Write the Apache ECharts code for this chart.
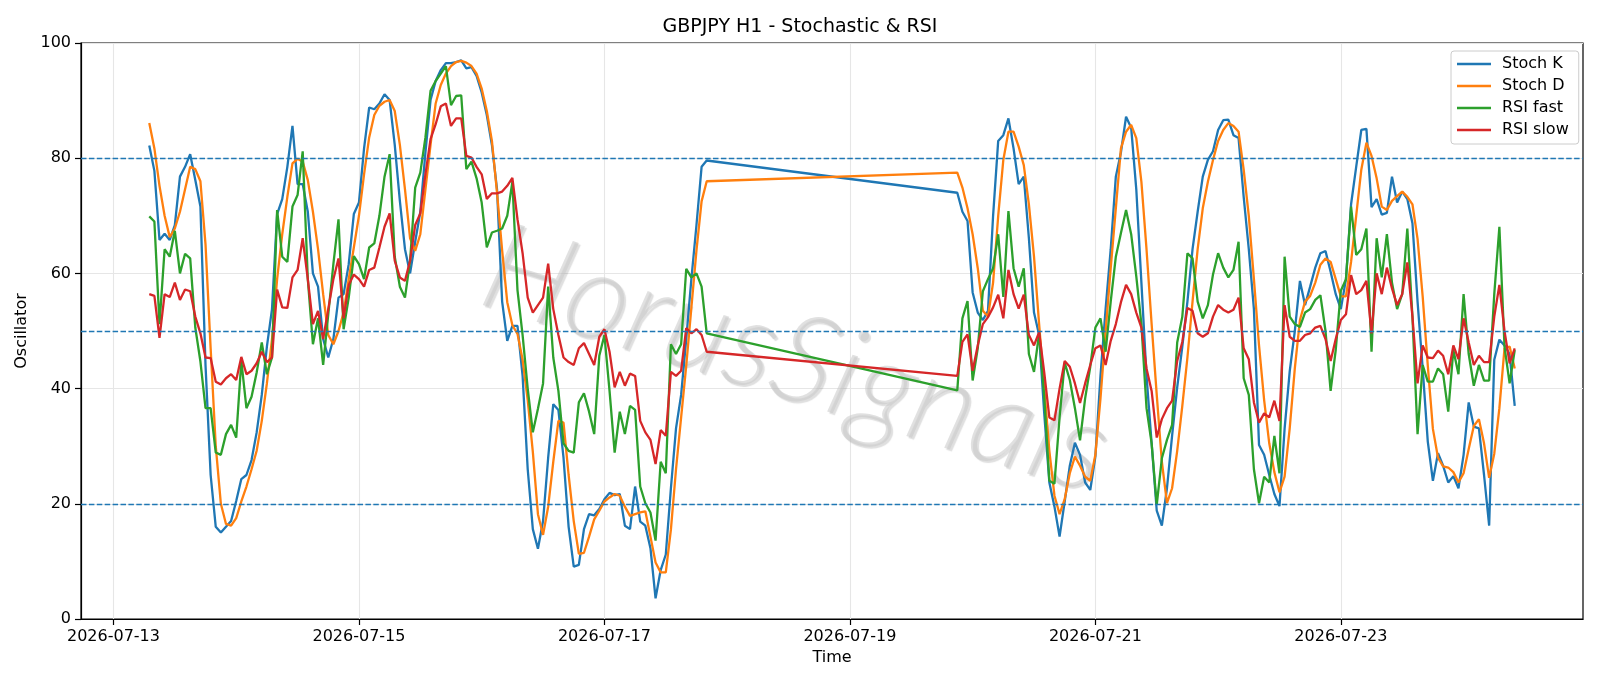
<!DOCTYPE html>
<html>
<head>
<meta charset="utf-8">
<title>GBPJPY H1 - Stochastic & RSI</title>
<script src="https://cdn.jsdelivr.net/npm/echarts@6/dist/echarts.min.js"></script>
<style>
html, body { margin: 0; padding: 0; background: #fff; }
#chart { width: 1600px; height: 686px; }
</style>
</head>
<body>
<div id="chart"></div>
<script>
// hourly bars: Mon 07-13 07:00 .. Fri 07-17 20:00, then Sun 07-19 21:00 .. Fri 07-24 10:00
const HOUR = 3600 * 1000
const firstBar = Date.UTC(2026, 6, 13, 7)
const reopenBar = Date.UTC(2026, 6, 19, 21)
const barsBeforeWeekend = 110
const barsAfterWeekend = 110

const tickDates = ['2026-07-13', '2026-07-15', '2026-07-17', '2026-07-19', '2026-07-21', '2026-07-23']
const levels = [20, 50, 80]

const stochK = [
    // week 1
    82.2, 77.8, 65.8, 66.9, 65.8, 68.4, 76.8, 78.5, 80.7, 76.2,
    71.6, 44, 25, 16, 15, 16, 17, 20.5, 24.3, 25,
    27.6, 32.4, 38.9, 47.3, 53.8, 70.3, 72.9, 78.5, 85.6, 75.5,
    75.5, 70.7, 60, 57.7, 48.6, 45.4, 48.6, 55.8, 56.4, 61.6,
    70.3, 72.3, 81.7, 88.8, 88.5, 89.5, 91.1, 90.1, 82.3, 72.6,
    64.2, 60, 65.5, 70.7, 81, 90.1, 93.4, 95.3, 96.5, 96.5,
    96.7, 97, 95.6, 95.8, 94.3, 91.4, 87.5, 82.3, 74.6, 55.1,
    48.3, 50.9, 50.9, 42.2, 26, 15.6, 12.2, 17, 28, 37.3,
    36.3, 28, 16, 9.1, 9.4, 15.6, 18.2, 18, 19.1, 20.8,
    21.9, 21.5, 21.7, 16.2, 15.6, 23, 16.9, 16.2, 12.3, 3.6,
    8.5, 11.2, 22.7, 33.1, 38.9, 48.6, 59, 68.4, 78.5, 79.6,
    // week 2
    74, 70.7, 69.1, 56.7, 53.2, 51.9, 53.5, 70, 83, 84,
    86.9, 81.7, 75.5, 76.8, 66.1, 53.2, 49.3, 35.7, 23.7, 19.5,
    14.3, 20.4, 26.6, 30.6, 28.5, 23.7, 22.4, 28.2, 42.2, 53.8,
    64.2, 76.8, 81, 87.2, 85.3, 74.6, 58.4, 42.2, 30.5, 18.8,
    16.2, 22.7, 31.8, 40.2, 47.3, 55.1, 64.2, 70.7, 76.8, 79.7,
    81.2, 84.9, 86.6, 86.7, 84, 83.5, 73.3, 64.2, 53.8, 30.2,
    28.5, 25, 21.7, 19.6, 33, 43, 50, 58.7, 54.5, 57.7,
    61, 63.5, 63.9, 60.3, 56.4, 53.8, 59, 72, 78.5, 84.9,
    85.1, 71.5, 72.9, 70.2, 70.5, 76.8, 72.3, 74.2, 72.9, 68.7,
    55.1, 43.5, 30.8, 24, 28.8, 26.6, 23.7, 24.8, 22.7, 28.5,
    37.6, 33.4, 33.1, 25, 16.2, 45, 48.5, 47.5, 46, 37
]

const stochD = [
    86.1, 81.7, 75.2, 70, 66.3, 67.8, 70.7, 74.6, 78.5, 78.1,
    76, 65, 47, 30, 20, 16.5, 16.2, 17.5, 20.4, 23,
    26, 29.2, 34.4, 40.9, 48.6, 59, 66.8, 73.3, 79.1, 79.9,
    79.4, 76.2, 70.7, 64.2, 56.4, 49.3, 47.7, 50, 53.2, 59,
    64.5, 70, 77.2, 83.6, 87.5, 89.1, 89.8, 90.1, 88.2, 82.3,
    74.6, 66.1, 63.9, 66.8, 74.6, 82.3, 89.5, 92.7, 94.7, 96,
    96.7, 96.9, 96.6, 96, 94.7, 92.1, 88.2, 83, 74, 64,
    55, 51, 49.5, 45, 38, 29, 18.2, 14.6, 19.5, 27.3,
    34.4, 34.1, 25, 17, 11.3, 11.5, 14.3, 17.3, 18.8, 20.4,
    21.1, 21.7, 21.4, 19.5, 17.9, 18.2, 18.5, 18.7, 14.3, 9.8,
    8.1, 8.1, 15.5, 26, 35, 44, 54, 64, 72.5, 76,
    77.5, 74.9, 71.3, 66.8, 60.9, 53.5, 52.5, 58.4, 70, 79.7,
    84.6, 84.6, 82, 78.8, 72, 62.9, 51.2, 40.2, 29.2, 21.4,
    18.2, 20.8, 25.3, 28.2, 26.6, 24.7, 24, 28.5, 38.3, 49.9,
    60.9, 71.3, 81.7, 84.6, 85.8, 83.5, 75.9, 64.2, 51.2, 38.9,
    27.3, 20.1, 22.7, 29.2, 37, 45.4, 55.1, 64.2, 71.3, 75.9,
    79.7, 83, 84.9, 86.1, 85.6, 84.6, 78, 70, 59, 47.5,
    38, 30.5, 25.5, 22, 24.7, 33.1, 43.5, 51.9, 55.1, 56.1,
    58.4, 61.5, 62.6, 62, 59, 56, 56, 62, 70, 78,
    82.7, 80.4, 76.5, 71.6, 71, 72.6, 73.4, 74.2, 73.3, 72,
    66, 56, 44, 33, 28, 26.5, 26.3, 25.5, 23.7, 25.3,
    29.5, 33.5, 34.7, 30.5, 24.5, 28.7, 36.6, 47, 47.3, 43.5
]

const rsiFast = [
    69.9, 69, 51.2, 64.2, 62.9, 67.4, 60, 63.4, 62.6, 50.6,
    44.7, 36.6, 36.6, 28.9, 28.5, 32.1, 33.7, 31.5, 44.8, 36.6,
    38.6, 42.8, 48, 42.5, 45.4, 71, 62.9, 62, 71.6, 73.6,
    81.2, 59, 47.7, 52.2, 44.1, 52.9, 61.6, 69.4, 50.3, 55.8,
    63, 61.6, 59, 64.5, 65.2, 70, 76.8, 80.7, 62.9, 57.7,
    55.8, 62.2, 74.9, 77.5, 83.6, 91.7, 93.4, 94.7, 96, 89.2,
    90.8, 90.9, 78.1, 79.4, 76.5, 72.3, 64.5, 67.1, 67.4, 67.8,
    70, 75.9, 57.1, 49.3, 40, 32.4, 36.5, 40.9, 57.7, 45.4,
    39.6, 30.5, 29.2, 28.9, 37.6, 39.2, 36, 32.1, 45.7, 49.3,
    39.6, 28.9, 36, 32.1, 37, 36.3, 23, 20.1, 18.5, 13.6,
    27.3, 25.3, 47.7, 46, 47.7, 60.8, 59.3, 60, 57.7, 49.6,
    39.7, 52.2, 55.2, 41.4, 47, 56.9, 59, 60.9, 66.8, 55.9,
    70.8, 60.9, 57.7, 60.9, 46, 42.9, 49.6, 38.6, 24, 23.5,
    35, 44.5, 41.5, 36.6, 31, 38.3, 43.8, 50.6, 52.2, 46.4,
    55.1, 62.9, 67, 71, 66.8, 59.5, 51.2, 36.6, 30.5, 19.8,
    27.9, 31.1, 33.7, 48, 52.5, 63.5, 62.6, 55.1, 52.2, 54.5,
    59.8, 63.5, 61, 59.3, 60.6, 65.5, 41.8, 38.9, 26, 20.1,
    24.7, 23.7, 31.8, 25.3, 62.9, 52.5, 51.2, 50.7, 53.2, 53.8,
    55.4, 56.2, 50, 39.6, 46.7, 57, 59, 71.6, 63.2, 64.2,
    67.8, 46.4, 66.1, 59.3, 66.8, 58.4, 53.8, 56.4, 67.8, 52.5,
    32.1, 44.1, 41.2, 41.2, 43.5, 42.5, 36, 46.7, 42.5, 56.4,
    46, 40.5, 44.1, 41.4, 41.4, 56.4, 68.1, 47.3, 40.9, 46.7
]

const rsiSlow = [
    56.4, 56.1, 48.8, 56.4, 55.9, 58.4, 55.4, 57.2, 56.9, 52.5,
    49.6, 45.4, 45.3, 41.2, 40.7, 41.8, 42.5, 41.5, 45.5, 42.5,
    43.1, 44.4, 46.4, 44.6, 45.4, 57.2, 54.1, 54, 59.3, 60.6,
    66.1, 59, 51.2, 53.5, 48.6, 53.8, 59, 62.6, 52.2, 58,
    59.8, 59, 57.7, 60.6, 61, 64.5, 68.1, 70.4, 62.2, 59.3,
    58.7, 62.2, 68.4, 70.4, 77.2, 83.3, 85.9, 89, 89.5, 85.6,
    86.9, 86.9, 80.4, 80.1, 78.5, 77.2, 72.9, 73.9, 73.9, 74.2,
    75.2, 76.6, 69.4, 63.5, 55.8, 53.2, 54.5, 55.8, 61.7, 53.8,
    49.3, 45.4, 44.6, 44.1, 47, 47.9, 46, 44.1, 49, 50.3,
    46.4, 40.2, 42.9, 40.5, 42.6, 42.2, 34.4, 32.4, 31.1, 26.9,
    32.8, 31.8, 42.9, 42.2, 43.1, 50.5, 49.6, 50.3, 49.3, 46.4,
    42.2, 48.1, 49.4, 43.1, 47.5, 51.2, 52.4, 54.1, 56.3, 52.2,
    60.6, 56.4, 53.9, 56.3, 49.3, 47.5, 49.8, 42.8, 35, 34.5,
    40, 44.8, 43.8, 40.9, 37.5, 40.9, 44.1, 47, 47.5, 44.1,
    48.3, 51.2, 55, 58, 56.4, 53.2, 50.6, 43.5, 39.6, 31.5,
    34.7, 36.6, 37.9, 44.8, 48.1, 54, 53.5, 49.6, 49, 49.6,
    52.5, 54.5, 53.7, 53.2, 53.7, 55.8, 47, 45.1, 37.6, 34.1,
    35.7, 35, 37.9, 34.4, 54.5, 49, 48.3, 48.3, 49.3, 49.6,
    50.6, 50.9, 48.6, 44.8, 48.6, 51.9, 52.9, 59.7, 56.4, 57.1,
    58.7, 49.6, 60, 56.4, 61, 57.4, 54.5, 56.4, 61.9, 52.5,
    40.9, 47.5, 45.4, 45.3, 46.6, 45.7, 42.5, 47.5, 45.1, 52.2,
    48, 44.1, 45.7, 44.6, 44.6, 52.5, 58, 50, 44.4, 47
]

const times = []
for (let i = 0; i < barsBeforeWeekend; i++) times.push(firstBar + i * HOUR)
for (let i = 0; i < barsAfterWeekend; i++) times.push(reopenBar + i * HOUR)

const tickValues = tickDates.map(d => Date.parse(d + 'T00:00:00Z'))
const day0 = Date.UTC(2026, 6, 13)

const FONT = 'DejaVu Sans'
const pad2 = n => (n < 10 ? '0' : '') + n

function toPoints(values) {
    return values.map((v, i) => [times[i], v])
}

function lineSeries(name, color, values) {
    return {
        name: name,
        type: 'line',
        data: toPoints(values),
        showSymbol: false,
        symbol: 'none',
        lineStyle: { color: color, width: 2.3 },
        itemStyle: { color: color },
        z: 3
    }
}

const chart = echarts.init(document.getElementById('chart'), null, { renderer: 'canvas' })

const kSeries = lineSeries('Stoch K', '#1f77b4', stochK)
kSeries.markLine = {
    silent: true,
    symbol: 'none',
    label: { show: false },
    animation: false,
    lineStyle: { color: '#1f77b4', type: [5.5, 2.4], width: 1.4 },
    data: levels.map(v => ({ yAxis: v }))
}

chart.setOption({
    animation: false,
    backgroundColor: '#fff',
    title: {
        text: 'GBPJPY H1 - Stochastic & RSI',
        left: 'center',
        top: 18,
        padding: [0, 0, 0, 64],
        textStyle: { fontFamily: FONT, fontSize: 19, fontWeight: 'normal', color: '#000' }
    },
    legend: {
        orient: 'vertical',
        left: 1451,
        top: 51,
        padding: [2, 10, 3, 6],
        itemWidth: 34,
        itemHeight: 2.4,
        itemGap: 0,
        icon: 'rect',
        backgroundColor: 'rgba(255,255,255,0.8)',
        borderColor: '#cccccc',
        borderWidth: 1,
        borderRadius: 3,
        textStyle: { fontFamily: FONT, fontSize: 16, color: '#000', lineHeight: 22, padding: [0, 0, 0, 6] }
    },
    grid: {
        left: 81, right: 17, top: 43, bottom: 67,
        show: true,
        borderColor: '#000',
        borderWidth: 1.2,
        containLabel: false
    },
    xAxis: {
        // epoch milliseconds on a plain value axis, labelled as dates
        type: 'value',
        min: day0 - 6.35 * HOUR,
        max: day0 + 287.35 * HOUR,
        name: 'Time',
        nameLocation: 'middle',
        nameGap: 30,
        nameTextStyle: { fontFamily: FONT, fontSize: 16, color: '#000' },
        axisLine: { show: true, onZero: false, lineStyle: { color: '#000', width: 1.2 } },
        axisTick: { show: true, length: 6, lineStyle: { color: '#000', width: 1.2 }, customValues: tickValues },
        axisLabel: {
            customValues: tickValues,
            margin: 10,
            fontFamily: FONT, fontSize: 16, color: '#000',
            formatter: function (v) {
                const d = new Date(v)
                return d.getUTCFullYear() + '-' + pad2(d.getUTCMonth() + 1) + '-' + pad2(d.getUTCDate())
            }
        },
        splitLine: { show: true, lineStyle: { color: '#e6e6e6', width: 1.1 } }
    },
    yAxis: {
        type: 'value',
        min: 0,
        max: 100,
        interval: 20,
        name: 'Oscillator',
        nameLocation: 'middle',
        nameGap: 39,
        nameRotate: 90,
        nameTextStyle: { fontFamily: FONT, fontSize: 16, color: '#000' },
        axisLine: { show: true, lineStyle: { color: '#000', width: 1.2 } },
        axisTick: { show: true, length: 6, lineStyle: { color: '#000', width: 1.2 } },
        axisLabel: { margin: 10, fontFamily: FONT, fontSize: 16, color: '#000' },
        splitLine: { show: true, lineStyle: { color: '#e6e6e6', width: 1.1 } }
    },
    // watermark
    graphic: [{
        type: 'text',
        x: 796,
        y: 360,
        rotation: -0.3,
        silent: true,
        z: 1,
        style: {
            text: 'HorusSignals',
            font: 'italic 300 124px Lato',
            fill: 'rgba(200,200,200,0.55)',
            align: 'center',
            verticalAlign: 'middle',
            textShadowColor: 'rgba(90,90,90,0.35)',
            textShadowBlur: 1,
            textShadowOffsetX: 2,
            textShadowOffsetY: 2
        }
    }],
    series: [
        kSeries,
        lineSeries('Stoch D', '#ff7f0e', stochD),
        lineSeries('RSI fast', '#2ca02c', rsiFast),
        lineSeries('RSI slow', '#d62728', rsiSlow)
    ]
})
</script>
</body>
</html>
